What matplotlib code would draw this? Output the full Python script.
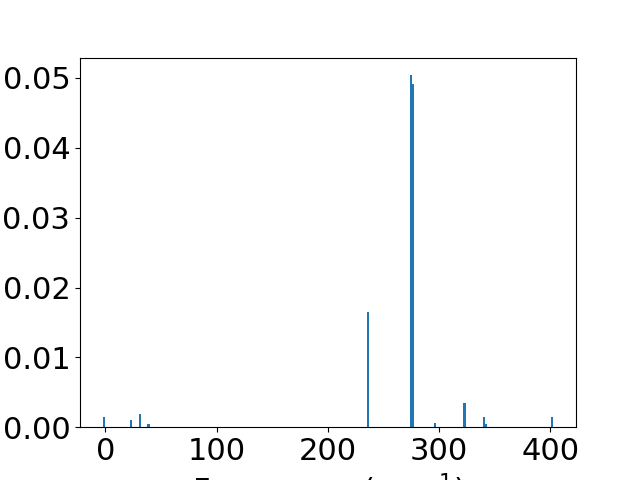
import matplotlib
matplotlib.use("Agg")
import matplotlib.pyplot as plt

frequencies = [-1.6, 22.8, 30.9, 38.7, 234.0, 236.0, 241.4, 274.8, 276.0,
               296.0, 322.8, 340.5, 342.0, 401.8]
intensities = [0.00143, 0.0010, 0.00186, 0.0004, 0.0001, 0.0165, 0.0001,
               0.0504, 0.0491, 0.00057, 0.00344, 0.00143, 0.0004, 0.00143]

plt.rcParams['font.size'] = 22
fig, ax = plt.subplots(figsize=(6.4, 4.8), dpi=100)
ax.bar(frequencies, intensities, width=2.0, color='#1f77b4')
ax.set_xlabel('Frequency (cm$^{-1}$)')
fig.savefig('out.png', dpi=100)
